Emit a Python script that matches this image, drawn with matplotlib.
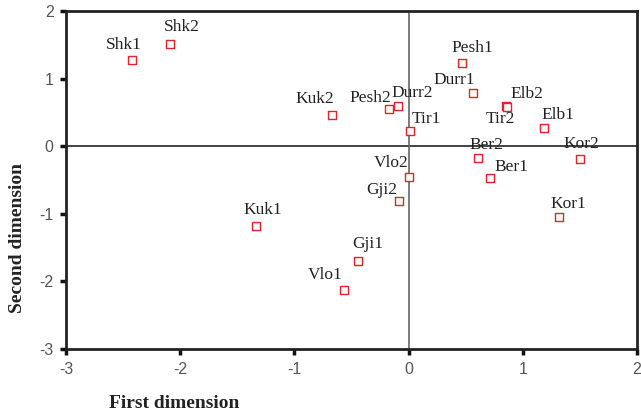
import matplotlib
matplotlib.use("Agg")
import matplotlib.pyplot as plt

plt.rcParams["axes.unicode_minus"] = False

# site names and coordinates on the two dimensions
names = ["Shk1", "Shk2", "Kuk2", "Pesh2", "Durr2", "Tir1", "Pesh1", "Durr1",
         "Elb2", "Tir2", "Elb1", "Kor2", "Ber2", "Ber1", "Vlo2", "Gji2",
         "Kor1", "Kuk1", "Gji1", "Vlo1"]
dim1 = [-2.42, -2.09, -0.67, -0.17, -0.09, 0.01, 0.47, 0.56,
        0.85, 0.86, 1.19, 1.50, 0.61, 0.71, 0.00, -0.08,
        1.32, -1.34, -0.44, -0.57]
dim2 = [1.27, 1.51, 0.46, 0.55, 0.59, 0.22, 1.23, 0.78,
        0.59, 0.58, 0.27, -0.19, -0.18, -0.47, -0.46, -0.81,
        -1.04, -1.18, -1.70, -2.12]

# label offsets in pixels (dx, dy) from the point
offsets = {
    "Shk1": (-8, 15), "Shk2": (12, 17), "Kuk2": (-17, 16), "Pesh2": (-19, 11),
    "Durr2": (14, 13), "Tir1": (17, 12), "Pesh1": (10, 15), "Durr1": (-18, 13),
    "Elb2": (21, 12), "Tir2": (-6, -12), "Elb1": (13, 13), "Kor2": (1, 15),
    "Ber2": (8, 13), "Ber1": (22, 11), "Vlo2": (-17, 14), "Gji2": (-18, 11),
    "Kor1": (9, 13), "Kuk1": (7, 16), "Gji1": (9, 17), "Vlo1": (-18, 15),
}

fig = plt.figure(figsize=(6.41, 4.15), dpi=100)
ax = fig.add_axes([66 / 641, 1 - 349 / 415, 571 / 641, 338 / 415])

ax.axhline(0, color="#222222", lw=1.2, zorder=1)
ax.axvline(0, color="#666666", lw=1.2, zorder=1)

ax.scatter(dim1, dim2, marker="s", s=30, facecolors="white",
           edgecolors="#e8202a", linewidths=1.0, zorder=3)

for n, x, y in zip(names, dim1, dim2):
    dx, dy = offsets[n]
    ax.annotate(n, (x, y), xytext=(dx, dy), textcoords="offset pixels",
                ha="center", va="center", family="Liberation Serif",
                fontsize=12.5, color="#222222")

ax.set_xlim(-3, 2)
ax.set_ylim(-3, 2)
ax.set_xticks([-3, -2, -1, 0, 1, 2])
ax.set_yticks([-3, -2, -1, 0, 1, 2])
for sp in ax.spines.values():
    sp.set_linewidth(2)
    sp.set_color("#222222")
ax.tick_params(length=4, width=2.5, color="#111111", labelcolor="#555555",
               labelsize=11.5, pad=5)
for lab in ax.get_xticklabels() + ax.get_yticklabels():
    lab.set_family("Liberation Sans")

fig.text(174 / 641, 1 - 403 / 415, "First dimension", ha="center", va="center",
         family="Liberation Serif", fontweight="bold", fontsize=14, color="#222222")
fig.text(18 / 641, 1 - 238 / 415, "Second dimension", ha="center", va="center",
         rotation=90, family="Liberation Serif", fontweight="bold", fontsize=14,
         color="#222222")

fig.savefig("out.png", dpi=100)
